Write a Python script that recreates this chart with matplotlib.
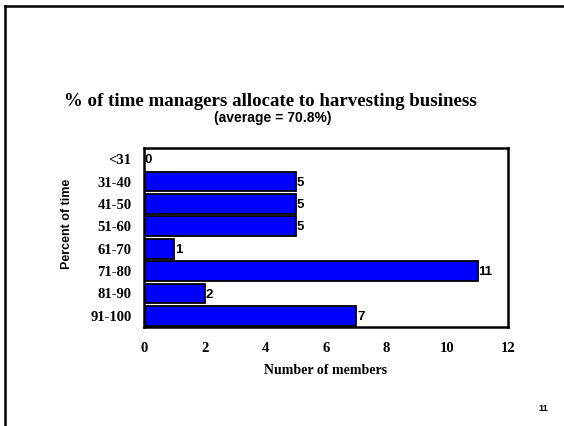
import matplotlib
matplotlib.use("Agg")
import matplotlib.pyplot as plt
from matplotlib.lines import Line2D

# Data
categories = ["<31", "31-40", "41-50", "51-60", "61-70", "71-80", "81-90", "91-100"]
members = [0, 5, 5, 5, 1, 11, 2, 7]
x_ticks = [0, 2, 4, 6, 8, 10, 12]

SERIF = "Liberation Serif"
SANS = "Liberation Sans"

fig = plt.figure(figsize=(5.64, 4.26), dpi=100, facecolor="white")

# slide frame: top and left edges
fig.add_artist(Line2D([0.009, 1.0], [0.986, 0.986], color="black", lw=1.8,
                      transform=fig.transFigure))
fig.add_artist(Line2D([0.009, 0.009], [0.0, 0.986], color="black", lw=1.8,
                      transform=fig.transFigure))

ax = fig.add_axes([0.2553, 0.2324, 0.6454, 0.4202])
ypos = list(range(len(categories)))
ax.barh(ypos, members, height=0.88, color="#0000FF", edgecolor="black", linewidth=1.3)

for y, v in zip(ypos, members):
    ax.text(v + 0.02, y + 0.05, str(v), va="center", ha="left",
            fontsize=9.5, fontweight="bold", family=SANS)

ax.set_xlim(0, 12)
ax.set_ylim(len(categories) - 0.5, -0.5)
ax.set_xticks(x_ticks)
ax.set_xticklabels([str(t) for t in x_ticks], family=SERIF, fontweight="bold", fontsize=10.5)
ax.set_yticks(ypos)
ax.set_yticklabels(categories, family=SERIF, fontweight="bold", fontsize=10.5)
ax.tick_params(length=0)
ax.tick_params(axis="x", pad=11)
ax.tick_params(axis="y", pad=9)
for spine in ax.spines.values():
    spine.set_linewidth(1.8)

ax.set_xlabel("Number of members", family=SERIF, fontweight="bold", fontsize=10, labelpad=6)
fig.text(0.118, 0.474, "Percent of time", rotation=90, ha="center", va="center",
         family=SANS, fontweight="bold", fontsize=9)

fig.text(0.479, 0.762, "% of time managers allocate to harvesting business", ha="center",
         va="center", family=SERIF, fontweight="bold", fontsize=13.6)
fig.text(0.483, 0.722, "(average = 70.8%)", ha="center", va="center",
         family=SANS, fontweight="bold", fontsize=10)

fig.text(0.963, 0.04, "11", ha="center", va="center", family=SANS,
         fontweight="bold", fontsize=6.5)

fig.savefig("out.png", dpi=100, facecolor="white")
